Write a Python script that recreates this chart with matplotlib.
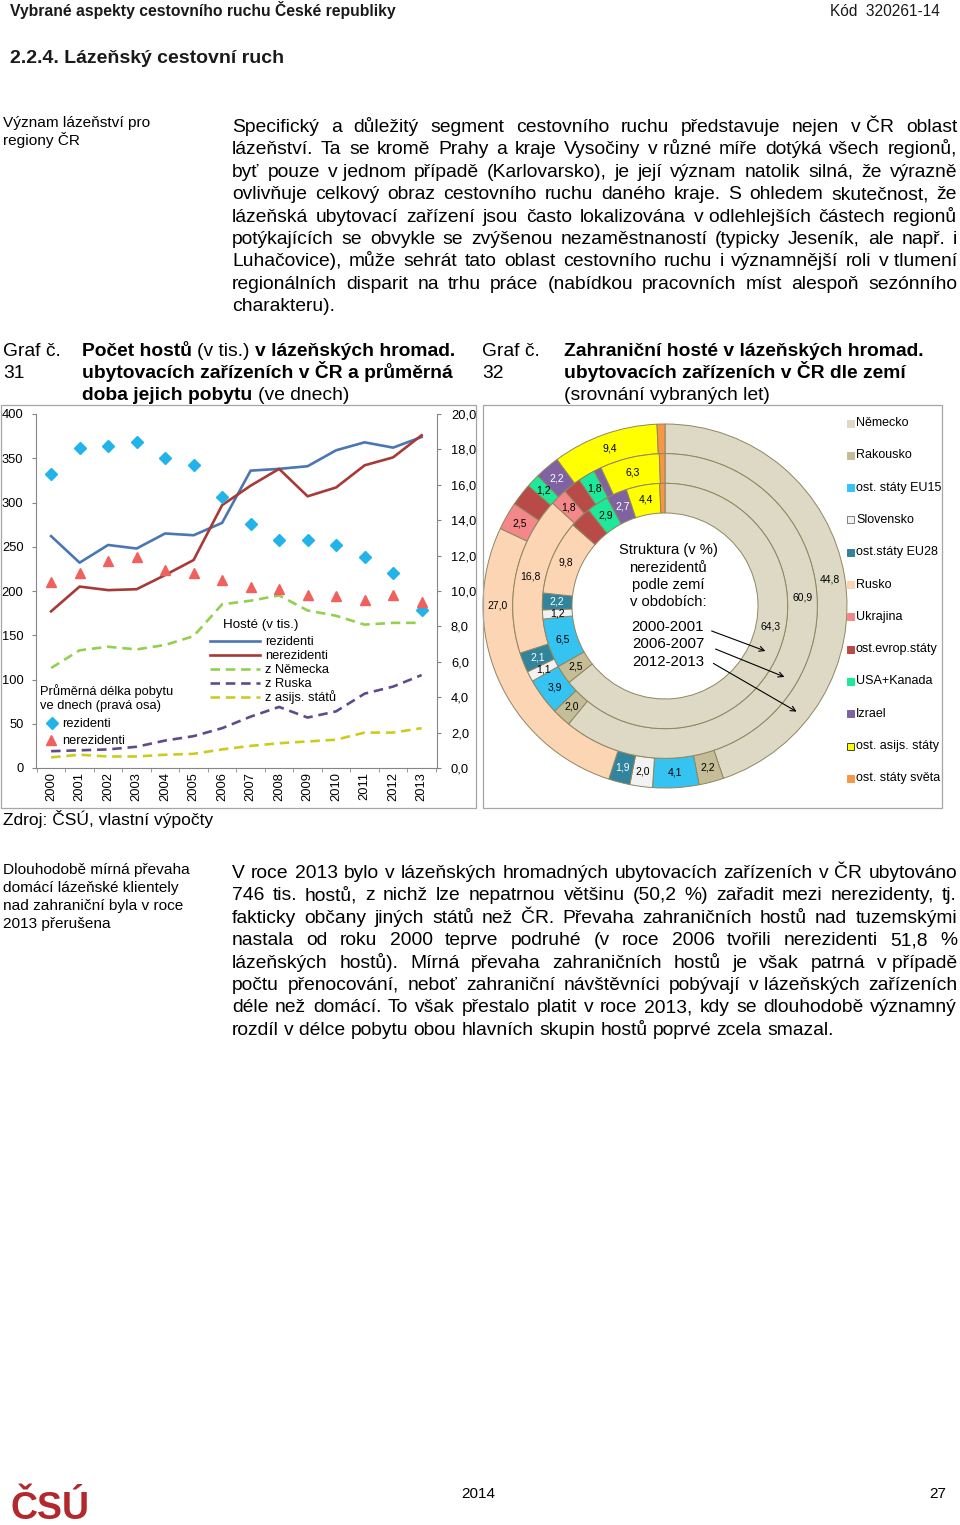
import matplotlib
matplotlib.use('Agg')
import matplotlib.pyplot as plt
from matplotlib.patches import Rectangle, FancyArrowPatch
from matplotlib.lines import Line2D
import numpy as np

# ---------------- data ----------------
years = list(range(2000, 2014))
guests_residents = [262, 232, 252, 248, 265, 263, 277, 336, 338, 341, 359, 368, 362, 374]
guests_nonresidents = [177, 205, 201, 202, 218, 235, 297, 319, 338, 307, 317, 342, 351, 376]
guests_germany = [113, 133, 137, 134, 139, 149, 185, 189, 195, 178, 172, 162, 164, 164]
guests_russia = [19, 20, 21, 24, 31, 36, 45, 58, 69, 57, 64, 84, 92, 105]
guests_asia = [12, 15, 13, 13, 15, 16, 21, 25, 28, 30, 32, 40, 40, 45]
stay_residents = [16.6, 18.1, 18.2, 18.4, 17.5, 17.1, 15.3, 13.8, 12.9, 12.9, 12.6, 11.9, 11.0, 8.9]
stay_nonresidents = [10.5, 11.0, 11.7, 11.9, 11.2, 11.0, 10.6, 10.2, 10.1, 9.8, 9.7, 9.5, 9.8, 9.4]

countries = ['Německo', 'Rakousko', 'ost. státy EU15', 'Slovensko', 'ost.státy EU28', 'Rusko',
             'Ukrajina', 'ost.evrop.státy', 'USA+Kanada', 'Izrael', 'ost. asijs. státy',
             'ost. státy světa']
share_2000_2001 = [64.3, 2.5, 6.5, 1.2, 2.2, 9.8, 0.0, 2.8, 2.9, 2.7, 4.4, 0.7]
share_2006_2007 = [60.9, 2.0, 3.9, 1.1, 2.1, 16.8, 1.8, 1.9, 1.8, 0.8, 6.3, 0.6]
share_2012_2013 = [44.8, 2.2, 4.1, 2.0, 1.9, 27.0, 2.5, 2.0, 1.2, 2.2, 9.4, 0.7]
periods = ['2000-2001', '2006-2007', '2012-2013']
unlabeled = ['ost.evrop.státy', 'ost. státy světa']

country_colors = ['#ddd9c4', '#c4bd97', '#35c3f2', '#f2f2f2', '#31849b', '#fcd5b5',
                  '#f4878a', '#b84a48', '#1ee89a', '#7f63a1', '#ffff00', '#f79646']

para1 = [
    "Specifický a důležitý segment cestovního ruchu představuje nejen v\u00a0ČR oblast",
    "lázeňství. Ta se kromě Prahy a kraje Vysočiny v\u00a0různé míře dotýká všech regionů,",
    "byť pouze v\u00a0jednom případě (Karlovarsko), je její význam natolik silná, že výrazně",
    "ovlivňuje celkový obraz cestovního ruchu daného kraje. S ohledem skutečnost, že",
    "lázeňská ubytovací zařízení jsou často lokalizována v\u00a0odlehlejších částech regionů",
    "potýkajících se obvykle se zvýšenou nezaměstnaností (typicky Jeseník, ale např. i",
    "Luhačovice), může sehrát tato oblast cestovního ruchu i významnější roli v\u00a0tlumení",
    "regionálních disparit na trhu práce (nabídkou pracovních míst alespoň sezónního",
    "charakteru).",
]
para2 = [
    "V roce 2013 bylo v lázeňských hromadných ubytovacích zařízeních v ČR ubytováno",
    "746 tis. hostů, z nichž lze nepatrnou většinu (50,2 %) zařadit mezi nerezidenty, tj.",
    "fakticky občany jiných států než ČR. Převaha zahraničních hostů nad tuzemskými",
    "nastala od roku 2000 teprve podruhé (v roce 2006 tvořili nerezidenti 51,8 %",
    "lázeňských hostů). Mírná převaha zahraničních hostů je však patrná v\u00a0případě",
    "počtu přenocování, neboť zahraniční návštěvníci pobývají v\u00a0lázeňských zařízeních",
    "déle než domácí. To však přestalo platit v roce 2013, kdy se dlouhodobě významný",
    "rozdíl v\u00a0délce pobytu obou hlavních skupin hostů poprvé zcela smazal.",
]
margin1 = ["Význam lázeňství pro", "regiony ČR"]
margin2 = ["Dlouhodobě mírná převaha", "domácí lázeňské klientely",
           "nad zahraniční byla v roce", "2013 přerušena"]

# ---------------- figure ----------------
plt.rcParams['font.family'] = ['Liberation Sans', 'DejaVu Sans']
W, H = 960, 1525
fig = plt.figure(figsize=(W / 100, H / 100), dpi=100)
fig.patch.set_facecolor('white')
R = fig.canvas.get_renderer()


def T(x, y, s, size, weight='normal', ha='left', va='baseline', color='black', **kw):
    return fig.text(x / W, 1 - y / H, s, fontsize=size, fontweight=weight, ha=ha, va=va,
                    color=color, **kw)


def width(s, size, weight='normal'):
    t = T(0, 0, s, size, weight)
    w = t.get_window_extent(renderer=R).width
    t.remove()
    return w


def space_w(size, weight='normal'):
    return width('a a', size, weight) - width('aa', size, weight)


def justify(lines, x0, x1, y0, pitch, size):
    for i, line in enumerate(lines):
        y = y0 + i * pitch
        words = line.split(' ')
        if i == len(lines) - 1 or len(words) == 1:
            x = x0
            sw = space_w(size)
            for wd in words:
                T(x, y, wd, size)
                x += width(wd, size) + sw
            continue
        ws = [width(wd, size) for wd in words]
        gap = (x1 - x0 - sum(ws)) / (len(words) - 1)
        x = x0
        for wd, w in zip(words, ws):
            T(x, y, wd, size)
            x += w + gap


def runs(x, y, parts, size):
    for s, wt in parts:
        T(x, y, s, size, wt)
        x += width(s, size, wt) + space_w(size, wt)


# ---------------- page text ----------------
T(10, 16, "Vybrané aspekty cestovního ruchu České republiky", 11.3, 'bold', color='#1a1a1a')
T(940, 16, "Kód  320261-14", 11.2, ha='right', color='#1a1a1a')
T(10, 63, "2.2.4. Lázeňský cestovní ruch", 14, 'bold', color='#1a1a1a')

for i, s in enumerate(margin1):
    T(3, 127 + 18 * i, s, 11.1)
justify(para1, 232, 957, 132, 22.4, 13.9)

# chart titles
T(3, 356, "Graf č.", 13.9)
T(3, 378, "31", 13.9)
runs(82, 356, [("Počet hostů", 'bold'), ("(v tis.)", 'normal'), ("v lázeňských hromad.", 'bold')], 13.9)
runs(82, 378, [("ubytovacích zařízeních v ČR a průměrná", 'bold')], 13.9)
runs(82, 400, [("doba jejich pobytu", 'bold'), ("(ve dnech)", 'normal')], 13.9)

T(482, 356, "Graf č.", 13.9)
T(482, 378, "32", 13.9)
runs(564, 356, [("Zahraniční hosté v lázeňských hromad.", 'bold')], 13.9)
runs(564, 378, [("ubytovacích zařízeních v ČR dle zemí", 'bold')], 13.9)
runs(564, 400, [("(srovnání vybraných let)", 'normal')], 13.9)

# chart frames
for (x0, y0, x1, y1) in [(1, 405, 476, 808), (483, 405, 942, 808)]:
    fig.add_artist(Rectangle((x0 / W, 1 - y1 / H), (x1 - x0) / W, (y1 - y0) / H,
                             transform=fig.transFigure, fill=False, edgecolor='#a6a6a6', lw=0.9))

T(3, 825, "Zdroj: ČSÚ, vlastní výpočty", 12.5)

for i, s in enumerate(margin2):
    T(3, 874 + 18 * i, s, 11.1)
justify(para2, 232, 957, 878, 22.4, 13.9)

# footer
T(10, 1519, "ČSÚ", 27, 'bold', color='#b3282d')
T(478, 1498, "2014", 11, ha='center')
T(946, 1498, "27", 11, ha='right')

# ---------------- chart 31 ----------------
ax1 = fig.add_axes([36 / W, 1 - 768 / H, (437 - 36) / W, (768 - 414) / H])
ax1.plot(years, guests_residents, color='#4a76b4', lw=1.9, zorder=3)
ax1.plot(years, guests_nonresidents, color='#a73a37', lw=1.9, zorder=3)
ax1.plot(years, guests_germany, color='#92d050', lw=1.9, dashes=(3.6, 2.2), zorder=2)
ax1.plot(years, guests_russia, color='#5f4b8b', lw=1.9, dashes=(3.6, 2.2), zorder=2)
ax1.plot(years, guests_asia, color='#cccc1e', lw=1.9, dashes=(3.6, 2.2), zorder=2)
ax1.set_xlim(1999.47, 2013.54)
ax1.set_ylim(0, 400)
ax1.set_yticks(np.arange(0, 401, 50))
ax1.set_xticks(years)
ax1.set_xticklabels([str(y) for y in years], rotation=90, fontsize=9.3)
ax1.set_xticks(np.arange(1999.5, 2014, 1), minor=True)
ax1.tick_params(axis='x', which='major', length=0, pad=3)
ax1.tick_params(axis='x', which='minor', length=3, color='#868686', direction='out')
ax1.tick_params(axis='y', direction='out', length=3, color='#868686', labelsize=9.3, pad=6)
for sp in ['top', 'right']:
    ax1.spines[sp].set_visible(False)
for sp in ['left', 'bottom']:
    ax1.spines[sp].set_color('#868686')
ax1.patch.set_alpha(0)

ax2 = ax1.twinx()
ax2.plot(years, stay_residents, ls='none', marker='D', ms=6, color='#22b4e8', zorder=4)
ax2.plot(years, stay_nonresidents, ls='none', marker='^', ms=7, color='#f0605d', zorder=4)
ax2.set_ylim(0, 20)
ticks2 = np.arange(0, 21, 2)
ax2.set_yticks(ticks2)
ax2.set_yticklabels([f"{v:.1f}".replace('.', ',') for v in ticks2])
ax2.tick_params(axis='y', direction='out', length=3, color='#868686', labelsize=9.3, pad=7)
for sp in ['top', 'left', 'bottom']:
    ax2.spines[sp].set_visible(False)
ax2.spines['right'].set_color('#868686')

# legend (guests)
T(261, 628, "Hosté (v tis.)", 9.6, ha='center')
leg_lines = [('rezidenti', '#4a76b4', None), ('nerezidenti', '#a73a37', None),
             ('z Německa', '#92d050', (3.6, 2.2)), ('z Ruska', '#5f4b8b', (3.6, 2.2)),
             ('z asijs. států', '#cccc1e', (3.6, 2.2))]
for i, (lab, col, ds) in enumerate(leg_lines):
    y = 641 + 14 * i
    ln = Line2D([210 / W, 260 / W], [1 - y / H, 1 - y / H], transform=fig.transFigure,
                color=col, lw=1.9)
    if ds:
        ln.set_dashes(ds)
    fig.add_artist(ln)
    T(265, y + 4, lab, 9.3)

# legend (average stay)
T(40, 695, "Průměrná délka pobytu", 9.3)
T(40, 709, "ve dnech (pravá osa)", 9.3)
fig.add_artist(Line2D([52 / W], [1 - 723 / H], transform=fig.transFigure, ls='none',
                      marker='D', ms=6, color='#22b4e8'))
T(62, 727, "rezidenti", 9.3)
fig.add_artist(Line2D([51 / W], [1 - 740 / H], transform=fig.transFigure, ls='none',
                      marker='^', ms=7, color='#f0605d'))
T(62, 744, "nerezidenti", 9.3)

# ---------------- chart 32 ----------------
cx, cy, rad = 665, 606, 182
axd = fig.add_axes([(cx - rad) / W, 1 - (cy + rad) / H, 2 * rad / W, 2 * rad / H])
ring_w = 0.163
rings = [(share_2012_2013, 1.0), (share_2006_2007, 1.0 - ring_w), (share_2000_2001, 1.0 - 2 * ring_w)]
for vals, r in rings:
    axd.pie(vals, radius=r, colors=country_colors, startangle=90, counterclock=False,
            wedgeprops=dict(width=ring_w, edgecolor='#8f8660', linewidth=0.7))
axd.set_xlim(-1, 1)
axd.set_ylim(-1, 1)
axd.set_aspect('equal')
axd.axis('off')

# label angle overrides (degrees clockwise from 12 o'clock) – layout only
angle_override = {(0, 0): 81, (1, 0): 86.5, (2, 0): 101, (0, 5): 270}
white_text = ['ost.státy EU28', 'Izrael']
for ri, (vals, r) in enumerate(rings):
    cum = np.cumsum([0] + list(vals))
    total = cum[-1]
    rm = r - ring_w / 2
    for ci, v in enumerate(vals):
        if v < 1 or countries[ci] in unlabeled:
            continue
        ang = angle_override.get((ri, ci), (cum[ci] + v / 2) / total * 360)
        th = np.deg2rad(ang)
        col = 'white' if countries[ci] in white_text else 'black'
        axd.text(rm * np.sin(th), rm * np.cos(th), f"{v:.1f}".replace('.', ','),
                 ha='center', va='center', fontsize=7.5, color=col)

# centre text
for i, s in enumerate(["Struktura (v %)", "nerezidentů", "podle zemí", "v obdobích:"]):
    T(668, 550 + 17.5 * i, s, 10.6, ha='center', va='center')
for i, s in enumerate(periods):
    T(668, 627 + 17.5 * i, s, 10.8, ha='center', va='center')
arrows = [((709, 630), (768, 652)), ((713, 648), (787, 678)), ((711, 662), (799, 713))]
for (x0, y0), (x1, y1) in arrows:
    fig.add_artist(FancyArrowPatch(
        (x0 / W, 1 - y0 / H), (x1 / W, 1 - y1 / H), transform=fig.transFigure,
        arrowstyle='->', mutation_scale=9, lw=0.8, color='black'))

# legend for countries
for i, (name, col) in enumerate(zip(countries, country_colors)):
    y = 423 + 32.3 * i
    ec = col
    if name == 'Slovensko':
        ec = '#7f7f7f'
    elif name == 'ost. asijs. státy':
        ec = '#404040'
    fig.add_artist(Rectangle((847 / W, 1 - (y + 3.5) / H), 7 / W, 7 / H, transform=fig.transFigure,
                             facecolor=col, edgecolor=ec, lw=0.7))
    T(856, y, name, 9, va='center')

fig.savefig('out.png', dpi=100)
